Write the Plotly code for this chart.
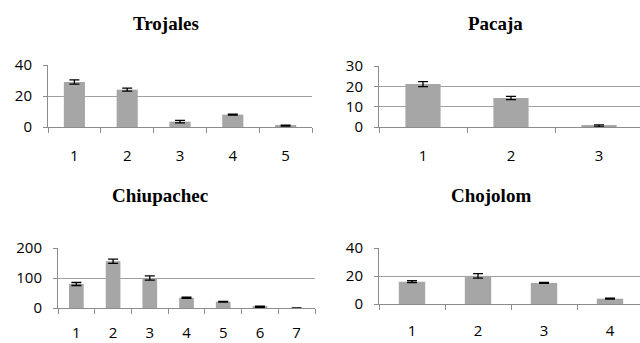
import plotly.graph_objects as go

W, H = 640, 343

titles = ["Trojales", "Pacaja", "Chiupachec", "Chojolom"]

trojales_cats = ["1", "2", "3", "4", "5"]
trojales_vals = [29.0, 24.1, 3.5, 8.0, 0.9]
trojales_err = [1.4, 1.0, 0.8, 0.3, 0.3]

pacaja_cats = ["1", "2", "3"]
pacaja_vals = [21.1, 14.3, 0.5]
pacaja_err = [1.2, 0.8, 0.5]

chiupachec_cats = ["1", "2", "3", "4", "5", "6", "7"]
chiupachec_vals = [80, 156, 100, 34, 21, 4.5, 0]
chiupachec_err = [5, 7, 7, 2, 1, 2, 0]

chojolom_cats = ["1", "2", "3", "4"]
chojolom_vals = [15.9, 20.1, 15.1, 3.8]
chojolom_err = [0.7, 1.6, 0.4, 0.3]

y_max = [40, 30, 200, 40]
y_dtick = [20, 10, 100, 20]

# plot-area boxes in pixels: (x0, x1, ytop, ybottom)
boxes = [
    (48, 312, 65, 127),
    (379, 643, 66, 127),
    (58, 315, 248, 308),
    (379, 643, 248, 304),
]
title_pos = [(166, 23), (495, 23), (160, 195), (491, 195)]
x_standoff = [15, 15, 11, 13]

series = [
    (trojales_cats, trojales_vals, trojales_err),
    (pacaja_cats, pacaja_vals, pacaja_err),
    (chiupachec_cats, chiupachec_vals, chiupachec_err),
    (chojolom_cats, chojolom_vals, chojolom_err),
]

fig = go.Figure()
grid_c = "#a0a0a0"
axis_c = "#8c8c8c"
tick_font = dict(family="Open Sans, Liberation Sans, sans-serif", size=15, color="#000")

for i, ((cats, vals, errs), box) in enumerate(zip(series, boxes)):
    n = i + 1
    xa = "x" if n == 1 else f"x{n}"
    ya = "y" if n == 1 else f"y{n}"
    fig.add_trace(go.Bar(
        x=cats, y=vals, xaxis=xa, yaxis=ya,
        marker=dict(color="#a6a6a6", line=dict(width=0)),
        error_y=dict(type="data", array=errs, visible=True, color="#000", thickness=1.3, width=5),
        showlegend=False, width=0.4,
    ))
    x0, x1, yt, yb = box
    xkey = "xaxis" if n == 1 else f"xaxis{n}"
    ykey = "yaxis" if n == 1 else f"yaxis{n}"
    ncat = len(cats)
    if x1 <= W:
        dom = [x0 / W, x1 / W]
        rng = [-0.5, ncat - 0.5]
    else:
        dom = [x0 / W, 1.0]
        rng = [-0.5, (ncat - 0.5) - (x1 - W) / ((x1 - x0) / ncat)]
    fig.layout[xkey] = dict(
        domain=dom, anchor=ya, type="category", range=rng, automargin=False,
        showline=True, linecolor=axis_c, linewidth=1,
        ticks="outside", tickson="boundaries", ticklen=5, tickcolor=axis_c,
        showgrid=False, tickfont=tick_font, fixedrange=True,
        ticklabelstandoff=x_standoff[i],
    )
    fig.layout[ykey] = dict(
        domain=[1 - yb / H, 1 - yt / H], anchor=xa, automargin=False,
        range=[0, y_max[i]], dtick=y_dtick[i], tick0=0,
        showline=True, linecolor=axis_c, linewidth=1,
        ticks="outside", ticklen=4, tickcolor=axis_c,
        showgrid=True, gridcolor=grid_c, gridwidth=1,
        zeroline=False, tickfont=tick_font, ticklabelstandoff=8,
    )
    tx, ty = title_pos[i]
    fig.add_annotation(
        text=f"<b>{titles[i]}</b>", x=tx / W, y=1 - ty / H, xref="paper", yref="paper",
        showarrow=False, xanchor="center", yanchor="middle",
        font=dict(family="Liberation Serif, Times New Roman, serif", size=19, color="#000"),
    )

fig.update_layout(
    width=W, height=H, margin=dict(l=0, r=0, t=0, b=0, autoexpand=False),
    paper_bgcolor="white", plot_bgcolor="white", bargap=0.6,
)

fig.write_html(
    "out.html",
    config={"displayModeBar": False},
    post_script="document.body.style.margin='0';document.body.style.overflow='hidden';",
)
